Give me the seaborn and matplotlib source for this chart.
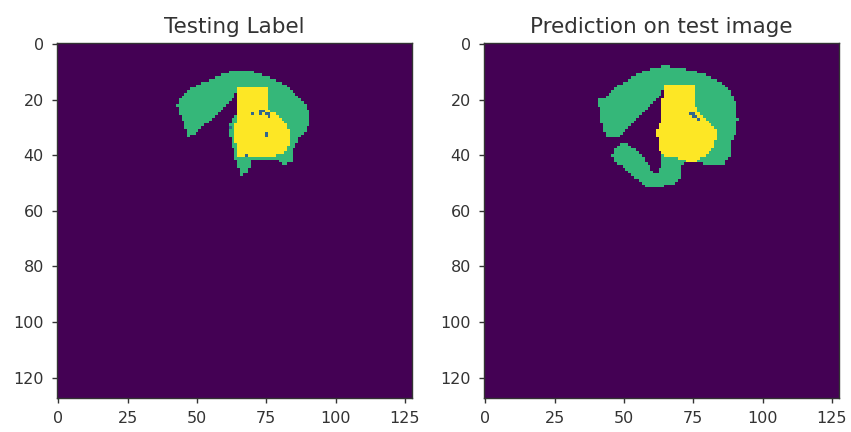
import numpy as np
import matplotlib
matplotlib.use("Agg")
import matplotlib.pyplot as plt
from matplotlib.path import Path
import seaborn as sns

GRID = 128
XTICKS = [0, 25, 50, 75, 100, 125]
YTICKS = [0, 20, 40, 60, 80, 100, 120]
TITLES = ["Testing Label", "Prediction on test image"]
CLASS_BG, CLASS_SPECK, CLASS_MYO, CLASS_CAV = 0, 1, 2, 3

# polygons (col, row)
label_green = [(42.7, 22.4), (43.3, 20.4), (45.5, 17.6), (48.5, 15.6), (52.3, 13.8), (56.5, 12.0),
               (60.5, 10.2), (63.0, 9.4), (68.5, 9.4), (72.5, 10.4), (77.5, 12.6), (82.3, 15.0),
               (85.9, 18.0), (88.9, 21.0), (90.7, 24.6), (90.7, 28.6), (88.9, 31.4), (86.5, 34.4),
               (84.7, 38.0), (84.7, 42.8), (80.5, 43.2), (79.5, 41.6), (75.0, 41.2), (69.7, 41.6),
               (68.5, 46.6), (65.5, 47.2), (64.3, 41.6), (63.7, 40.4), (62.5, 35.6), (61.3, 30.8),
               (61.9, 28.4), (64.3, 24.8), (64.3, 18.8), (64.9, 16.2),
               (64.3, 17.6), (61.3, 21.2), (57.1, 25.4), (52.3, 29.6), (48.7, 32.8), (46.9, 33.2),
               (45.7, 29.6), (43.9, 24.8)]
label_yellow = [(65.0, 15.6), (75.1, 15.6), (75.7, 20.0), (75.1, 23.2), (78.7, 25.2), (81.1, 27.2),
                (82.3, 28.6), (83.5, 32.0), (82.9, 36.8), (81.1, 39.2), (76.0, 40.6), (70.3, 40.8),
                (64.6, 41.0), (63.9, 34.4), (63.9, 29.6), (64.5, 24.8), (64.5, 18.8)]
label_specks = [(70, 25), (73, 24), (74, 24), (73, 25), (75, 25), (76, 25), (76, 26), (75, 32),
                (75, 33), (68, 40), (62, 30)]

pred_green = [(64.9, 7.8), (71.5, 8.6), (79.9, 11.0), (85.9, 14.0), (88.9, 18.2), (90.7, 22.4),
              (91.0, 27.0), (90.7, 30.8), (88.9, 34.4), (88.9, 38.6), (85.9, 43.4), (79.9, 43.4),
              (72.7, 41.6), (70.9, 44.0), (70.6, 47.5), (68.0, 50.2), (63.6, 51.3), (57.6, 51.3),
              (54.0, 48.0), (49.5, 44.2), (46.5, 42.4), (46.0, 40.0), (46.8, 37.2), (49.8, 35.4),
              (51.0, 35.6), (54.2, 38.0), (57.6, 41.4), (59.4, 44.2), (61.4, 47.2), (63.2, 44.0),
              (63.8, 40.4), (62.4, 36.2), (61.8, 31.4), (63.0, 28.4), (64.4, 16.0),
              (63.0, 18.2), (58.8, 23.0), (54.6, 27.2), (50.4, 30.8), (48.6, 33.2), (44.0, 33.4),
              (43.2, 32.6), (42.0, 28.4), (41.4, 23.6), (40.2, 20.0), (42.6, 19.4), (46.8, 15.8),
              (52.2, 12.2), (58.2, 9.2)]
pred_yellow = [(64.9, 14.8), (75.7, 14.8), (75.1, 20.0), (76.3, 23.6), (79.9, 27.2), (82.9, 30.2),
               (83.5, 33.2), (82.3, 36.8), (78.7, 40.4), (75.7, 42.2), (72.7, 42.2), (69.0, 40.6),
               (63.6, 39.8), (62.4, 36.2), (61.8, 31.4), (63.0, 28.4), (64.2, 18.0)]
pred_specks = [(74, 25), (75, 25), (75, 26), (76, 26), (77, 27)]


def build_mask(green, yellow, specks):
    cc, rr = np.meshgrid(np.arange(GRID), np.arange(GRID))
    pts = np.column_stack([cc.ravel(), rr.ravel()])
    grid = np.full((GRID, GRID), CLASS_BG, dtype=float)
    g = Path(green).contains_points(pts).reshape(GRID, GRID)
    y = Path(yellow).contains_points(pts).reshape(GRID, GRID)
    grid[g] = CLASS_MYO
    grid[y] = CLASS_CAV
    for c, r in specks:
        grid[r, c] = CLASS_SPECK
    return grid


masks = [build_mask(label_green, label_yellow, label_specks),
         build_mask(pred_green, pred_yellow, pred_specks)]

fig = plt.figure(figsize=(8.51, 4.32), dpi=100)
fig.patch.set_facecolor("white")
W, H = 851, 432
boxes = [(56.9, 42.9, 355, 355.5), (483.9, 42.9, 355, 355.5)]
text_color = "#333333"

for mask, title, (x0, y0, w, h) in zip(masks, TITLES, boxes):
    ax = fig.add_axes([x0 / W, (H - y0 - h) / H, w / W, h / H])
    sns.heatmap(mask, ax=ax, cmap="viridis", vmin=0, vmax=3, cbar=False,
                xticklabels=False, yticklabels=False)
    ax.set_aspect("auto")
    ax.set_xlim(0, GRID)
    ax.set_ylim(GRID, 0)
    ax.set_xticks(np.array(XTICKS) + 0.5)
    ax.set_xticklabels([str(t) for t in XTICKS], rotation=0)
    ax.set_yticks(np.array(YTICKS) + 0.5)
    ax.set_yticklabels([str(t) for t in YTICKS], rotation=0)
    ax.tick_params(direction="out", length=3.6, width=1.0, colors=text_color,
                   labelsize=11.5, labelcolor=text_color, pad=5.8)
    for s in ax.spines.values():
        s.set_visible(True)
        s.set_linewidth(1.0)
        s.set_color(text_color)
    ax.set_title(title, fontsize=15.5, color=text_color, pad=7)

fig.savefig("out.png", dpi=100)
